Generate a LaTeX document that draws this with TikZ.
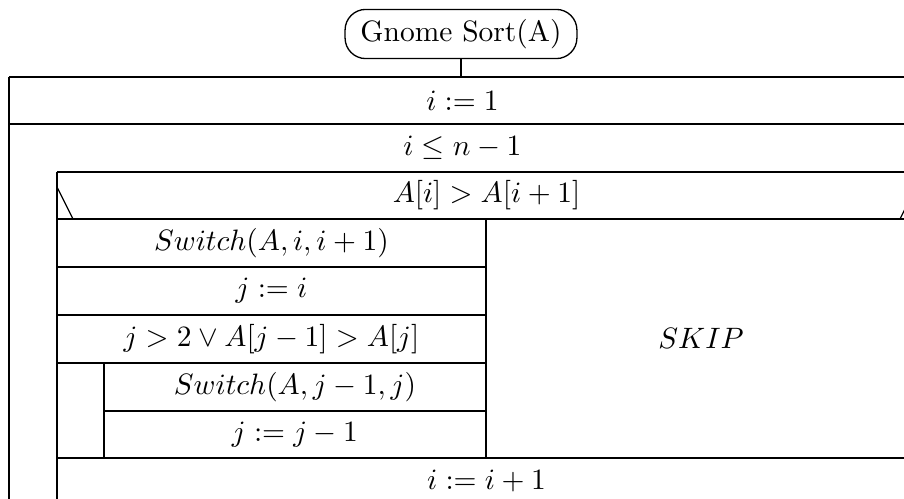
\documentclass[tikz,border=0pt]{standalone}
\usepackage{amsmath}
\usepackage{amssymb}
\usetikzlibrary{calc}

\begin{document}
\begin{tikzpicture}[x=0.339pt, y=-0.339pt, line width=0.45pt,
  txt/.style={inner sep=0pt},
  headbox/.style={draw, rounded corners=7pt, minimum height=16.3pt, minimum width=78.6pt}]
  \useasboundingbox (0,0) rectangle (904,499);
  \clip (0,0) rectangle (904,499);
  \coordinate (L0) at (9,77);
  \coordinate (L1) at (57,172);
  \coordinate (L2) at (104,363);
  \coordinate (Mid) at (486,219);
  \coordinate (R) at (916,540);

  % head
  \node[headbox] (head) at (461,34) {Gnome Sort(A)};
  \coordinate (Top) at (head.south |- L0);
  \draw (head.south) -- (Top);

  % outer block and loop
  \draw (L0) -- (L0 -| R);
  \draw (9,124) -- (916,124);
  \draw (L0) -- (9,540);
  \draw (L1) -- (L1 -| R);
  \draw (L1) -- (57,540);

  % branch
  \draw (57,219) -- (916,219);
  \draw (57,187) -- (73,219);
  \draw (900,219) -- (916,187);
  \draw (Mid) -- (486,458);
  \draw (57,267) -- (486,267);
  \draw (57,315) -- (486,315);
  \draw (57,363) -- (486,363);
  \draw (L2) -- (104,458);
  \draw (104,411) -- (486,411);
  \draw (57,458) -- (916,458);
  \draw (916,77) -- (R);

  \node[txt] (init) at (462.5,100.5) {$i := 1$};
  \node[txt] (loopcond) at (462.5,148) {$i \leq n-1$};
  \node[txt] (ifcond) at (486.5,195.5) {$A[i] > A[i+1]$};
  \node[txt] (swapa) at (271.5,243) {$Switch(A,i,i+1)$};
  \node[txt] (setj) at (271.5,291) {$j := i$};
  \node[txt] (innercond) at (271.5,339) {$j > 2 \vee A[j-1] > A[j]$};
  \node[txt] (swapb) at (295,387) {$Switch(A,j-1,j)$};
  \node[txt] (decj) at (295,434.5) {$j := j-1$};
  \node[txt] (skip) at (701,338.5) {$SKIP$};
  \node[txt] (inc) at (486.5,481.5) {$i := i+1$};
\end{tikzpicture}
\end{document}
